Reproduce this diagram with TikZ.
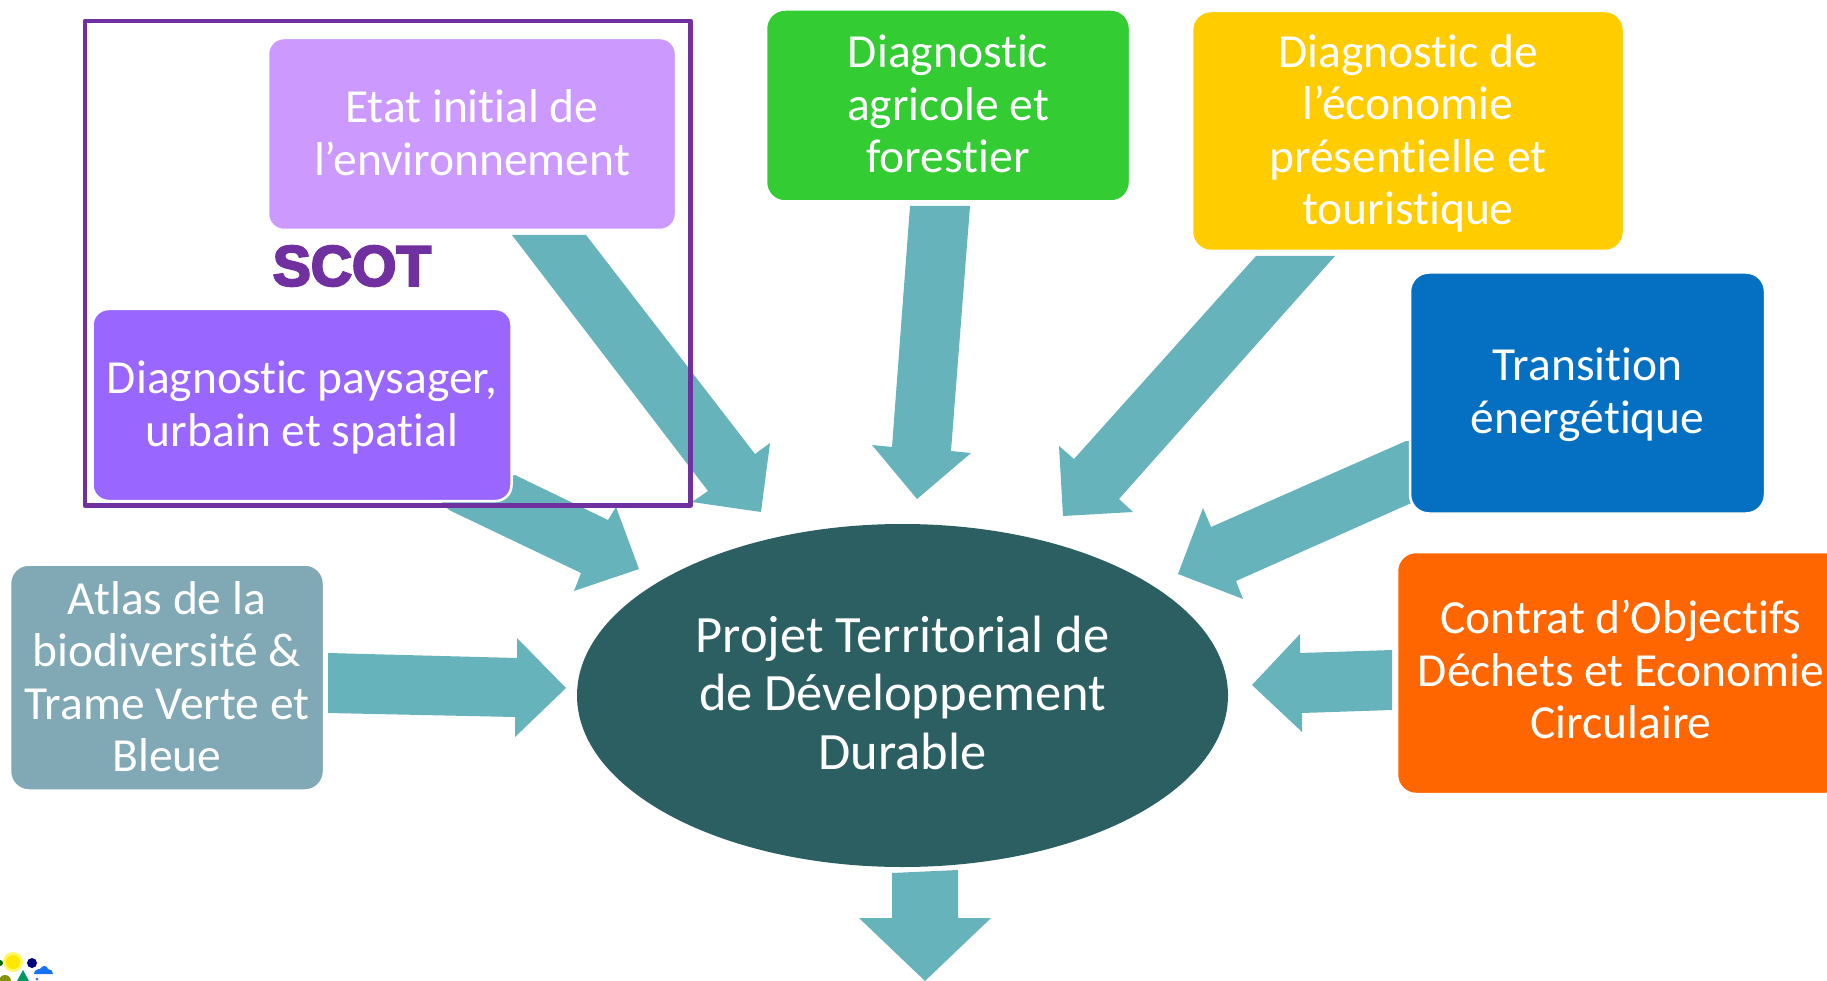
\documentclass[tikz,border=0pt]{standalone}
\usepackage{fontspec}
\setmainfont[Ligatures=NoCommon]{Carlito}
\newfontfamily\scotfont[FakeBold=4]{Liberation Sans Bold}
\usetikzlibrary{shapes.geometric}
\newcommand\deepline[1]{\rule[-#1pt]{0pt}{#1pt}}
\newcommand\tallline[1]{\rule{0pt}{#1pt}}
\definecolor{flowc}{HTML}{66B3BC}
\definecolor{framec}{HTML}{7030A0}
\definecolor{etatc}{HTML}{CC99FF}
\definecolor{paysc}{HTML}{9966FF}
\definecolor{agric}{HTML}{33CC33}
\definecolor{ecoc}{HTML}{FFCC00}
\definecolor{enerc}{HTML}{0570C2}
\definecolor{wastec}{HTML}{FF6600}
\definecolor{atlasc}{HTML}{80A9B5}
\definecolor{hubc}{HTML}{2C5F62}
\tikzset{
  box/.style={draw=white,line width=2.5pt,rounded corners=19pt,text=white,align=center,inner sep=0pt,
    font=\fontsize{47.5}{52.5}\selectfont},
  hub/.style={ellipse,fill=hubc,text=white,align=center,inner sep=0pt,
    font=\fontsize{52.5}{58.5}\selectfont},
  flow/.style={fill=flowc},
  scotframe/.style={draw=framec,line width=4.5pt,line join=round}
}
\begin{document}
\begin{tikzpicture}[x=1pt,y=-1pt]
\clip (0,0) rectangle (1827,981);
% block arrows towards the hub
\fill[flow] (586,235)--(755,454)--(770,443)--(761,512)--(692,502)--(708,491)--(512,235)--cycle;
\fill[flow] (515,475)--(608,520)--(616,507)--(639,569)--(574,591)--(581,573)--(449,510)--(440,500)--cycle;
\fill[flow] (910,206)--(970,206)--(951,451)--(971,453)--(917,499)--(872,445)--(892,447)--cycle;
\fill[flow] (1256,256)--(1335,256)--(1119,499)--(1133,512)--(1063,516)--(1059,446)--(1074,459)--cycle;
\fill[flow] (1406,441)--(1420,441)--(1420,500)--(1409,504)--(1236,581)--(1243,599)--(1178,574)--(1203,508)--(1211,527)--cycle;
\fill[flow] (1392,650)--(1392,710)--(1302,713)--(1302,732)--(1252,685)--(1300,634)--(1300,653)--cycle;
\fill[flow] (328,653)--(328,713)--(515,717)--(515,737)--(566,688)--(517,638)--(517,658)--cycle;
\fill[flow] (892,873)--(958,870)--(958,918)--(991,918)--(925,981)--(859,918)--(892,918)--cycle;
% boxes
\node[box,fill=etatc,minimum width=408pt,minimum height=192pt,rounded corners=16pt] (etat) at (472,134) {Etat initial de\\l’environnement\deepline{3}};
\node[box,fill=paysc,minimum width=419pt,minimum height=192pt,rounded corners=16pt] (pays) at (302,405) {\tallline{37.3}Diagnostic paysager,\\urbain et spatial};
\node[box,fill=agric,minimum width=364pt,minimum height=192pt] (agri) at (948,105.5) {Diagnostic\\agricole et\\forestier\deepline{3.5}};
\node[box,fill=ecoc,minimum width=432pt,minimum height=240pt] (eco) at (1408,131) {\tallline{38}Diagnostic de\\l’économie\\présentielle et\\touristique};
\node[box,fill=enerc,minimum width=355pt,minimum height=241pt] (ener) at (1587.5,393) {\tallline{36}Transition\\énergétique};
\node[box,fill=wastec,minimum width=448pt,minimum height=242pt] (waste) at (1621,673) {Contrat d’Objectifs\\Déchets et Economie\\Circulaire\deepline{6.6}};
\node[box,fill=atlasc,minimum width=314pt,minimum height=226pt] (atlas) at (167,677.5) {Atlas de la\\biodiversité \&\\Trame Verte et\\Bleue\deepline{2.4}};
\node[hub,minimum width=651pt,minimum height=343pt] (hubn) at (902.5,695.5) {Projet Territorial de\\de Développement\\Durable\deepline{6}};
% SCOT frame
\draw[scotframe] (85,21) rectangle (690.5,505.5);
\node[text=framec,inner sep=0pt,font=\fontsize{57}{60}\scotfont] (scot) at (352,266) {SCOT};
% logo
\fill[yellow!60] (13,962) circle (10pt);
\fill[yellow!90!orange] (13,962) circle (7pt);
\fill[blue!50!black] (32,963) circle (5pt);
\fill[flowc!30!blue!70!cyan] (34,974) .. controls (34,970) and (38,969) .. (40,969) .. controls (42,965) and (47,965) .. (48,969) .. controls (51,969) and (53,971) .. (53,974) -- cycle;
\fill[teal!80!green] (23,970)--(29,981)--(17,981)--cycle;
\fill[olive!80!green] (5,981) circle (6pt);
\fill[green!40!black] (0,963) circle (3pt);
\fill[flowc!60!blue] (37,979) circle (1.5pt);
\end{tikzpicture}
\end{document}
